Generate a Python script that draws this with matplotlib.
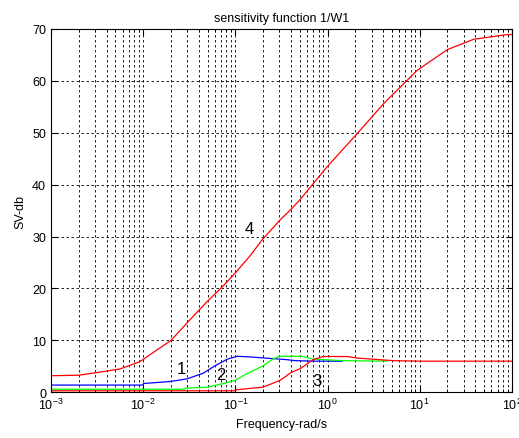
import matplotlib
matplotlib.use("Agg")
import matplotlib.pyplot as plt
from matplotlib.ticker import LogLocator, FixedLocator

plt.rcParams["font.family"] = ["Liberation Sans", "DejaVu Sans"]

# curve 1 (blue)
f1 = [1e-3, 1e-2, 1.01e-2, 2e-2, 3e-2, 4.5e-2, 6e-2, 8.2e-2, 0.105, 0.15, 0.25, 0.36, 0.45, 0.7, 1.44]
v1 = [1.4, 1.4, 1.7, 2.1, 2.6, 3.7, 5.1, 6.4, 6.95, 6.8, 6.5, 6.3, 6.1, 6.0, 6.0]
# curve 2 (green)
f2 = [1e-3, 2.8e-2, 2.85e-2, 5e-2, 7e-2, 0.1, 0.13, 0.2, 0.255, 0.3, 0.39, 0.52, 0.7, 1.46, 4.4]
v2 = [0.6, 0.6, 0.8, 1.0, 1.6, 2.3, 3.5, 5.1, 6.4, 6.95, 6.95, 6.95, 6.4, 6.1, 6.0]
# curve 3 (red)
f3 = [1e-3, 0.1, 0.102, 0.2, 0.305, 0.36, 0.4, 0.51, 0.7, 0.9, 1.63, 2.1, 3.6, 5.2, 10, 100]
v3 = [0.3, 0.3, 0.5, 1.0, 2.3, 3.2, 3.8, 4.6, 6.3, 6.9, 6.9, 6.6, 6.3, 6.1, 6.0, 6.0]
# curve 4 (red)
f4 = [1e-3, 2e-3, 3.4e-3, 5.6e-3, 9.2e-3, 1.29e-2, 2e-2, 3e-2, 4.89e-2, 7.11e-2, 0.1,
      0.1445, 0.2, 0.306, 0.41, 0.514, 0.985, 2.09, 4.06, 9.37, 19.9, 38.6, 89, 100]
v4 = [3.2, 3.3, 3.9, 4.5, 5.9, 7.7, 10.0, 13.4, 17.4, 20.2, 23.0,
      26.3, 29.6, 33.2, 35.4, 37.3, 43.4, 49.8, 55.6, 62.0, 66.0, 68.0, 68.9, 68.9]

labels = ["1", "2", "3", "4"]
label_pos = [(0.026, 4.5), (0.070, 3.5), (0.77, 2.3), (0.142, 31.6)]

fig = plt.figure(figsize=(5.19, 4.39), dpi=100)
ax = fig.add_axes([0.0983, 0.104, 0.888, 0.828])

ax.plot(f1, v1, color="#0000ff", lw=0.9)
ax.plot(f2, v2, color="#00ff00", lw=0.9)
ax.plot(f3, v3, color="#ff0000", lw=0.9)
ax.plot(f4, v4, color="#ff0000", lw=0.9)

for lab, (x, y) in zip(labels, label_pos):
    ax.text(x, y, lab, fontsize=12, ha="center", va="center", color="black")

ax.set_xscale("log")
ax.set_xlim(1e-3, 1e2)
ax.set_ylim(0, 70)
ax.yaxis.set_major_locator(FixedLocator(range(0, 71, 10)))
ax.xaxis.set_major_locator(LogLocator(base=10, numticks=10))
ax.xaxis.set_minor_locator(LogLocator(base=10, subs=range(2, 10), numticks=20))

ax.grid(which="major", axis="both", color="black", ls=(0, (3, 3)), lw=0.6)
ax.grid(which="minor", axis="x", color="black", ls=(0, (3, 3)), lw=0.6)

ax.tick_params(which="both", direction="in", top=True, right=True, labelsize=9)
ax.tick_params(which="major", length=4)
ax.tick_params(which="minor", length=2)
for s in ax.spines.values():
    s.set_linewidth(0.8)

ax.set_xlabel("Frequency-rad/s", fontsize=9)
ax.set_ylabel("SV-db", fontsize=9)
ax.set_title("sensitivity function 1/W1", fontsize=9)

fig.savefig("out.png", dpi=100)
